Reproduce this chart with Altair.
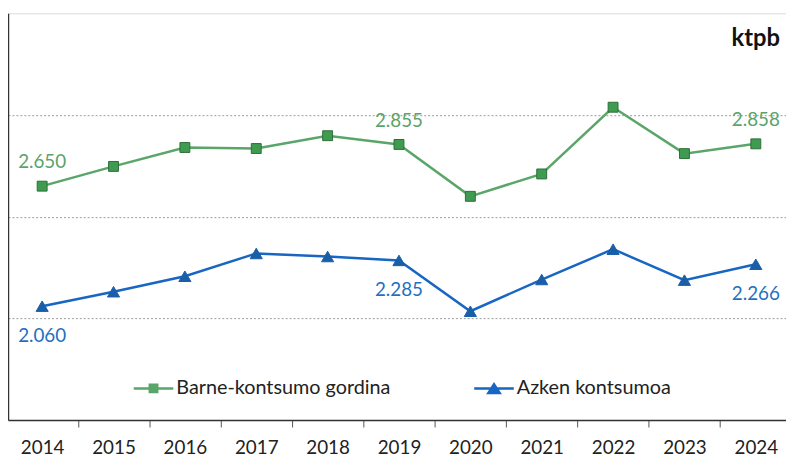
import altair as alt
import pandas as pd

years = [2014, 2015, 2016, 2017, 2018, 2019, 2020, 2021, 2022, 2023, 2024]
gross = [2650, 2747, 2840, 2835, 2898, 2855, 2600, 2710, 3038, 2810, 2858]
final = [2060, 2131, 2207, 2319, 2304, 2285, 2035, 2191, 2340, 2188, 2266]
labelled_years = [2014, 2019, 2024]
s_gross = "Barne-kontsumo gordina"
s_final = "Azken kontsumoa"

rows = []
for name, vals in [(s_gross, gross), (s_final, final)]:
    for y, v in zip(years, vals):
        lab = f"{v:,}".replace(",", ".") if y in labelled_years else ""
        rows.append({"year": y, "value": v, "series": name, "label": lab})
df = pd.DataFrame(rows)

GREEN_LINE = "#5aa66a"
GREEN_FILL = "#3f9b4f"
GREEN_EDGE = "#2d6e3a"
GREEN_TEXT = "#5ba36a"
BLUE_LINE = "#1766c2"
BLUE_FILL = "#1a5ea8"
BLUE_TEXT = "#1f70c1"
FONT = "Lato"

path_g = "M-1,-0.0625H1V0.0625H-1Z M-0.25,-0.25H0.25V0.25H-0.25Z"
path_b = "M-1,-0.0625H1V0.0625H-1Z M0,-0.32L0.4,0.3H-0.4Z"

W = 786
STEP = 72.1
X0 = 2014 - 34.5 / STEP

x = alt.X(
    "year:Q",
    scale=alt.Scale(domain=[X0, X0 + W / STEP], nice=False, zero=False),
    axis=alt.Axis(
        values=years,
        format="d",
        tickOffset=STEP / 2,
        labelOffset=-STEP / 2,
        tickSize=7,
        tickColor="#555555",
        domainColor="#333333",
        domainWidth=1.5,
        labelFontSize=19,
        labelFont=FONT,
        labelColor="#222222",
        labelPadding=12,
        labelFlush=False,
        labelOverlap=False,
        labelBound=False,
        grid=False,
        title=None,
    ),
)
y = alt.Y(
    "value:Q",
    scale=alt.Scale(domain=[1500, 3500], nice=False, zero=False),
    axis=alt.Axis(
        values=[2000, 2500, 3000],
        labels=False,
        ticks=False,
        domainColor="#333333",
        domainWidth=1.5,
        grid=True,
        gridColor="#9a9a9a",
        gridDash=[2, 2],
        gridWidth=1,
        title=None,
    ),
)

color_scale = alt.Scale(domain=[s_gross, s_final], range=[GREEN_LINE, BLUE_LINE])

legend = alt.Legend(
    orient="none",
    legendX=127,
    legendY=359,
    direction="horizontal",
    columns=2,
    columnPadding=84,
    symbolSize=1600,
    symbolStrokeWidth=0,
    symbolOpacity=1,
    labelFontSize=20,
    labelFont=FONT,
    labelColor="#222222",
    labelOffset=3,
    labelLimit=0,
    title=None,
    padding=0,
)

base = alt.Chart(df)

legend_layer = base.mark_point(filled=True, size=1).encode(
    x=x,
    y=y,
    color=alt.Color("series:N", scale=color_scale, legend=legend),
    shape=alt.Shape(
        "series:N",
        scale=alt.Scale(domain=[s_gross, s_final], range=[path_g, path_b]),
        legend=legend,
    ),
)

lines = base.mark_line(strokeWidth=2.5).encode(
    x=x,
    y=y,
    color=alt.Color("series:N", scale=color_scale, legend=legend),
    detail="series:N",
)

pts_g = base.transform_filter(alt.datum.series == s_gross).mark_point(
    shape="square", size=100, filled=True, fill=GREEN_FILL, stroke=GREEN_EDGE, strokeWidth=1, opacity=1
).encode(x=x, y=y)

pts_b = base.transform_filter(alt.datum.series == s_final).mark_point(
    shape="triangle-up", size=150, filled=True, fill=BLUE_FILL, stroke=BLUE_FILL, strokeWidth=1, opacity=1
).encode(x=x, y=y)

txt_g = base.transform_filter(
    (alt.datum.series == s_gross) & (alt.datum.label != "")
).mark_text(fontSize=19, font=FONT, color=GREEN_TEXT, dy=-24).encode(x=x, y=y, text="label:N")

txt_b = base.transform_filter(
    (alt.datum.series == s_final) & (alt.datum.label != "")
).mark_text(fontSize=19, font=FONT, color=BLUE_TEXT, dy=30).encode(x=x, y=y, text="label:N")

chart = (
    alt.layer(legend_layer, lines, pts_g, pts_b, txt_g, txt_b)
    .properties(
        width=W,
        height=411,
        autosize=alt.AutoSizeParams(type="none"),
        padding={"left": 0, "top": 3, "right": 0, "bottom": 35},
        title=alt.TitleParams(
            "ktpb",
            anchor="end",
            frame="group",
            orient="top",
            fontSize=24,
            font=FONT,
            fontWeight="bold",
            color="#111111",
            dx=-6,
            dy=42,
        ),
    )
    .configure_view(fill="#EEEEEE", stroke="#A0A0A0", strokeWidth=1.5)
    .configure(background="white")
)

chart.save("out.html", embed_options={"renderer": "svg", "actions": False})
